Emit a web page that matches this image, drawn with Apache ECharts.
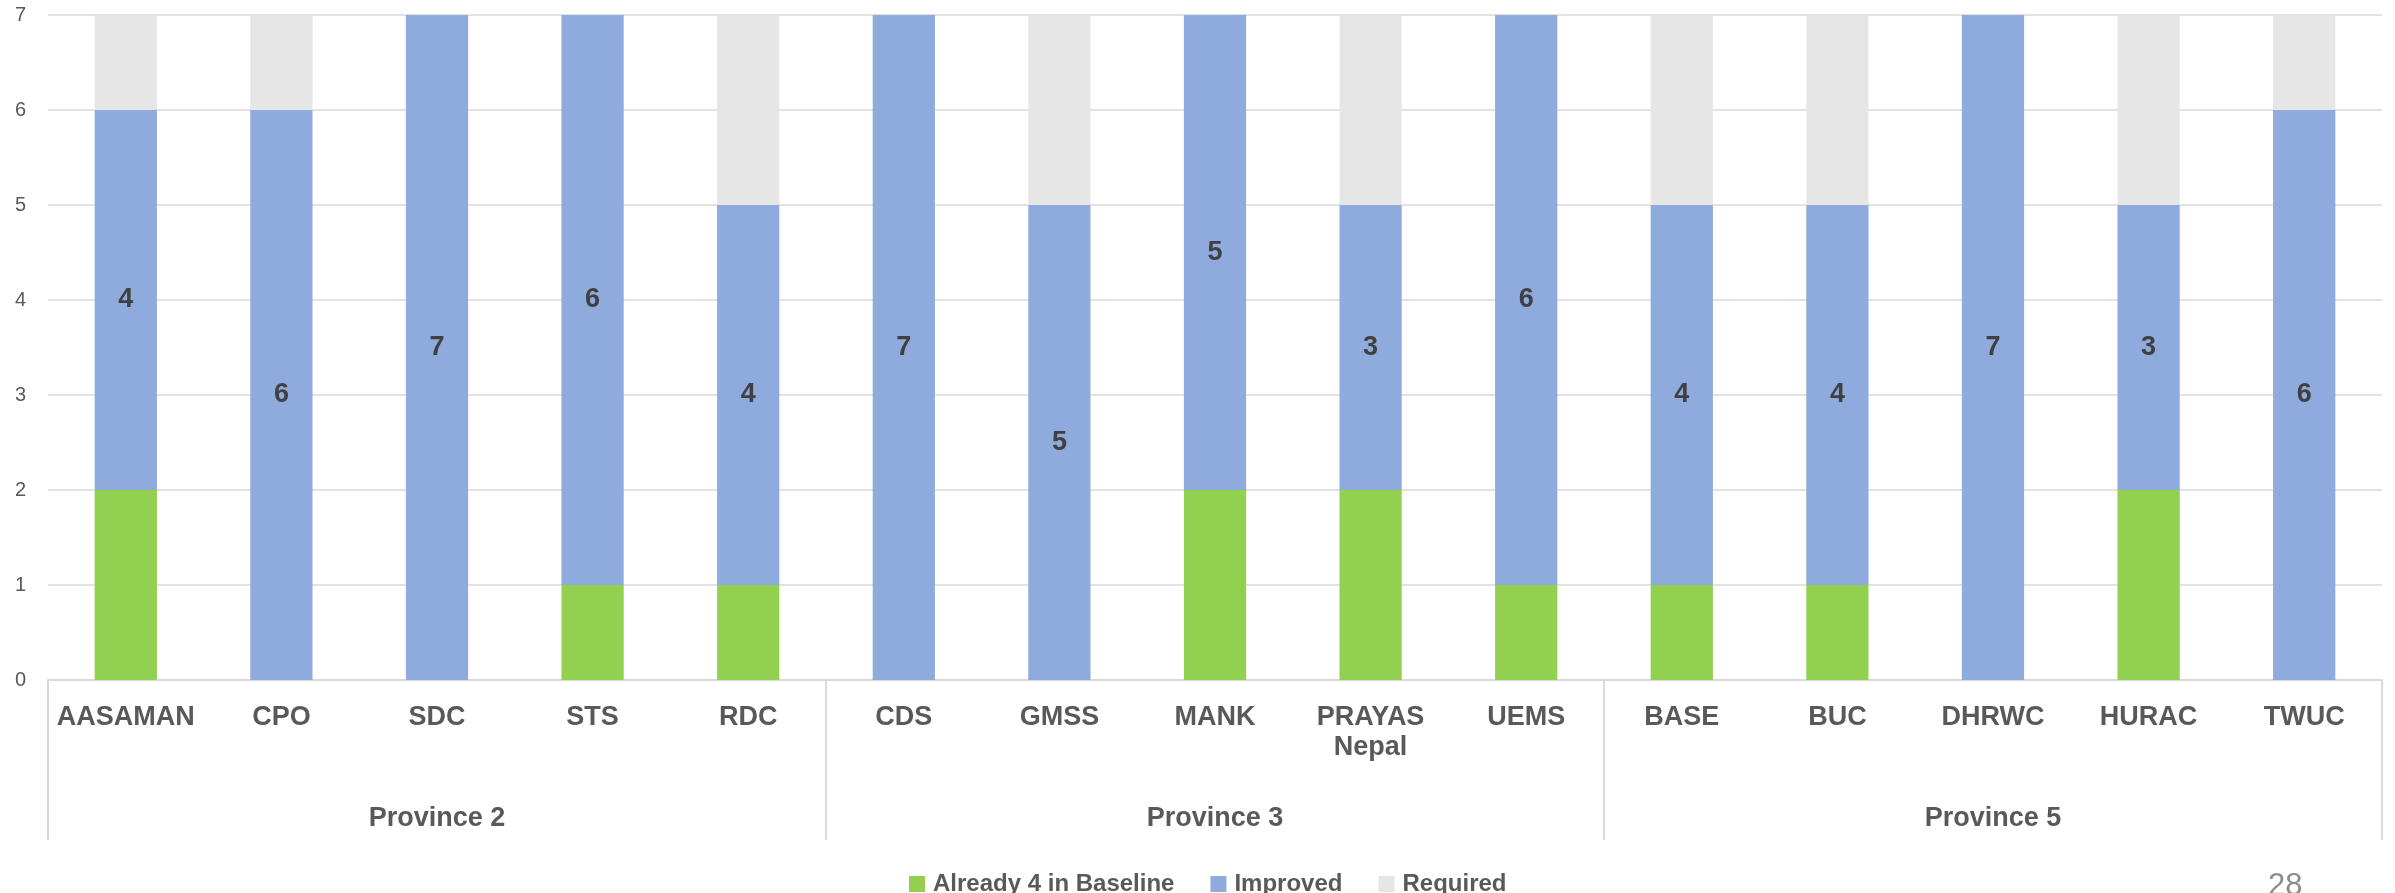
<!DOCTYPE html>
<html>
<head>
<meta charset="utf-8">
<script src="https://cdn.jsdelivr.net/npm/echarts@6/dist/echarts.min.js"></script>
<style>
  html, body { margin: 0; padding: 0; background: #fff; }
  #chart { width: 2395px; height: 893px; }
</style>
</head>
<body>
<div id="chart"></div>
<script>
// organisations, grouped by province (5 each)
const orgs = ['AASAMAN', 'CPO', 'SDC', 'STS', 'RDC',
  'CDS', 'GMSS', 'MANK', 'PRAYAS\nNepal', 'UEMS',
  'BASE', 'BUC', 'DHRWC', 'HURAC', 'TWUC'];
const provinces = ['Province 2', 'Province 3', 'Province 5'];

const baseline = [2, 0, 0, 1, 1, 0, 0, 2, 2, 1, 1, 1, 0, 2, 0];
const improved = [4, 6, 7, 6, 4, 7, 5, 5, 3, 6, 4, 4, 7, 3, 6];
const required = [1, 1, 0, 0, 2, 0, 2, 0, 2, 0, 2, 2, 0, 2, 1];

const yTicks = [0, 1, 2, 3, 4, 5, 6, 7];

const FONT = 'Liberation Sans';
const GRID = '#d9d9d9';
const TEXT = '#595959';

const chart = echarts.init(document.getElementById('chart'));

chart.setOption({
  animation: false,
  textStyle: { fontFamily: FONT },
  grid: { left: 48, right: 13, top: 15, bottom: 213 },
  legend: {
    top: 867,
    left: 904,
    icon: 'rect',
    itemWidth: 16,
    itemHeight: 16,
    itemGap: 36,
    textStyle: { fontFamily: FONT, fontSize: 24, fontWeight: 'bold', color: TEXT, padding: [0, 0, 0, 3] },
    data: ['Already 4 in Baseline', 'Improved', 'Required'],
  },
  xAxis: [
    {
      type: 'category',
      data: orgs,
      axisLine: { lineStyle: { color: GRID, width: 2 } },
      axisTick: { show: false },
      axisLabel: {
        interval: 0,
        margin: 23,
        fontFamily: FONT,
        fontSize: 27,
        fontWeight: 'bold',
        color: TEXT,
        lineHeight: 30,
      },
    },
    {
      type: 'category',
      position: 'bottom',
      data: provinces,
      axisLine: { show: false },
      axisTick: { show: true, length: 160, lineStyle: { color: GRID, width: 2 } },
      axisLabel: {
        margin: 125,
        fontFamily: FONT,
        fontSize: 27,
        fontWeight: 'bold',
        color: TEXT,
      },
    },
  ],
  yAxis: {
    type: 'value',
    min: yTicks[0],
    max: yTicks[yTicks.length - 1],
    interval: 1,
    axisLine: { show: false },
    axisTick: { show: false },
    axisLabel: { margin: 22, fontFamily: FONT, fontSize: 20, color: TEXT },
    splitLine: { lineStyle: { color: GRID, width: 1.5 } },
  },
  series: [
    {
      name: 'Already 4 in Baseline',
      type: 'bar',
      stack: 'total',
      barWidth: '40%',
      data: baseline,
      itemStyle: { color: '#92d050' },
    },
    {
      name: 'Improved',
      type: 'bar',
      stack: 'total',
      barWidth: '40%',
      data: improved,
      itemStyle: { color: '#8faadc' },
      label: {
        show: true,
        position: 'inside',
        fontFamily: FONT,
        fontSize: 27,
        fontWeight: 'bold',
        color: '#404040',
      },
    },
    {
      name: 'Required',
      type: 'bar',
      stack: 'total',
      barWidth: '40%',
      data: required,
      itemStyle: { color: '#e6e6e6' },
    },
  ],
  graphic: [
    {
      type: 'text',
      left: 2268,
      top: 871,
      style: { text: '28', fontFamily: FONT, fontSize: 31, fill: '#8c8c8c' },
    },
  ],
});
</script>
</body>
</html>
